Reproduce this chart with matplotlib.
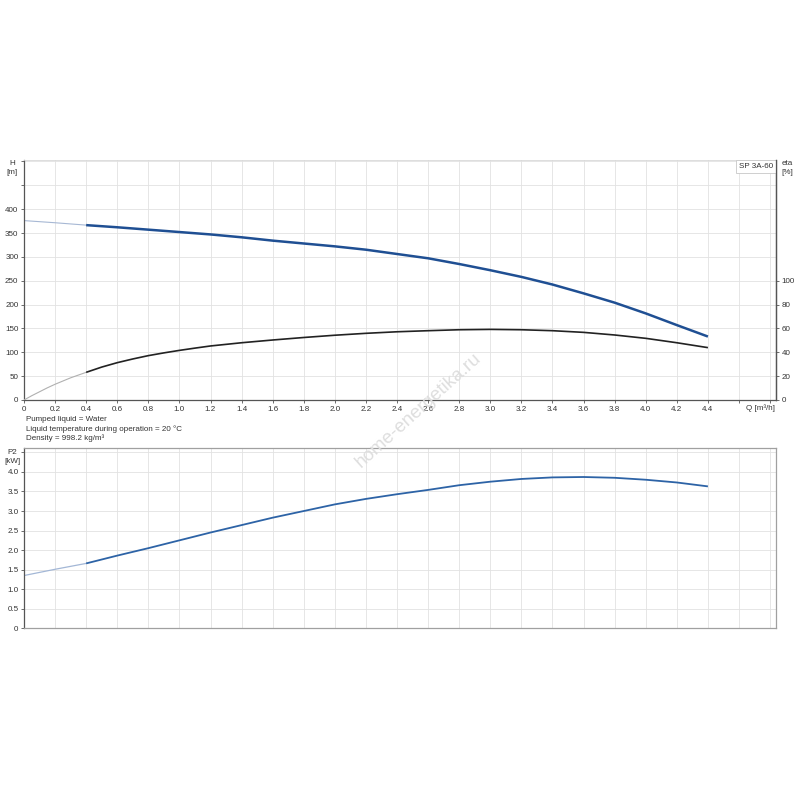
import matplotlib
matplotlib.use("Agg")
import matplotlib.pyplot as plt

plt.rcParams['font.family'] = ['Liberation Sans', 'DejaVu Sans']

# flow rate (m3/h) for the main part of the curves
q = [0.4, 0.6, 0.8, 1.0, 1.2, 1.4, 1.6, 1.8, 2.0, 2.2, 2.4,
     2.6, 2.8, 3.0, 3.2, 3.4, 3.6, 3.8, 4.0, 4.2, 4.4]
head = [366.5, 362, 357, 352, 347, 341, 334, 328, 322, 315, 306,
        297, 285, 272, 258, 242, 223.5, 204, 181.5, 157, 133]
p2 = [1.66, 1.86, 2.05, 2.25, 2.45, 2.64, 2.83, 3.0, 3.17, 3.31, 3.43,
      3.54, 3.66, 3.75, 3.82, 3.86, 3.87, 3.85, 3.80, 3.73, 3.63]

# efficiency is read more densely where it bends
q_eta = [0.4, 0.5, 0.6, 0.7, 0.8, 0.9, 1.0, 1.1, 1.2, 1.4, 1.6, 1.8, 2.0, 2.2, 2.4,
         2.6, 2.8, 3.0, 3.2, 3.4, 3.6, 3.8, 4.0, 4.2, 4.4]
eta = [23.2, 27.6, 31.3, 34.4, 37.2, 39.5, 41.6, 43.5, 45.3, 48.0, 50.3, 52.4, 54.3, 55.9, 57.2,
       58.1, 58.9, 59.2, 58.9, 58.1, 56.7, 54.5, 51.7, 48.0, 43.9]

# light start segment (0 .. 0.4 m3/h)
q_start = [0, 0.2, 0.4]
head_start = [376, 371.5, 366.5]
p2_start = [1.35, 1.51, 1.66]
q_eta_start = [0, 0.05, 0.1, 0.15, 0.2, 0.3, 0.4]
eta_start = [0, 3.6, 6.9, 10.2, 13.2, 18.6, 23.2]

q_ticks = [round(0.2 * i, 1) for i in range(25)]
q_labels = ['0'] + ['%.1f' % v for v in q_ticks[1:23]] + ['', '']

grid_c = '#e2e2e2'
spine_c = '#555555'
txt_c = '#333333'
fs = 5.8

fig = plt.figure(figsize=(8, 8), dpi=100)

# ---- top chart: head + efficiency
ax = fig.add_axes([0.03, 0.5, 0.94, 0.3])
ax.set_xlim(0, 4.838)
ax.set_ylim(0, 503)
ax.set_xticks(q_ticks)
ax.set_xticklabels(q_labels)
ax.set_yticks(range(0, 501, 50))
ax.set_yticklabels([str(v) if v <= 400 else '' for v in range(0, 501, 50)])
ax.grid(True, color=grid_c, lw=0.6)
ax.set_axisbelow(True)
ax.tick_params(labelsize=fs, colors=spine_c, labelcolor=txt_c, length=2.5, width=0.6, pad=1.5)
for s in ['left', 'bottom', 'right']:
    ax.spines[s].set_color(spine_c)
    ax.spines[s].set_linewidth(0.9)
ax.spines['top'].set_color('#d8d8d8')
ax.spines['top'].set_linewidth(0.6)

ax.plot(q_start, head_start, color='#a7b8d4', lw=0.8)
ax.plot(q, head, color='#1f4f93', lw=1.8, solid_capstyle='butt')

ax2 = ax.twinx()
ax2.set_ylim(0, 503 * 0.4)
ax2.set_yticks(range(0, 101, 20))
ax2.tick_params(labelsize=fs, colors=spine_c, labelcolor=txt_c, length=2.5, width=0.6, pad=1.5)
for s in ['left', 'bottom', 'top']:
    ax2.spines[s].set_visible(False)
ax2.spines['right'].set_color(spine_c)
ax2.spines['right'].set_linewidth(0.9)
ax2.plot(q_eta_start, eta_start, color='#b0b0b0', lw=0.8)
ax2.plot(q_eta, eta, color='#222222', lw=1.2, solid_capstyle='butt')

ax.text(4.71, 490, 'SP 3A-60', fontsize=fs, color=txt_c, ha='center', va='center',
        bbox=dict(boxstyle='square,pad=0.35', fc='white', ec='#c8c8c8', lw=0.6))

fig.text(12 / 800, 1 - 168 / 800, 'H\n[m]', fontsize=fs, color=txt_c, ha='center', va='center',
         linespacing=1.3)
fig.text(787 / 800, 1 - 168 / 800, 'eta\n[%]', fontsize=fs, color=txt_c, ha='center', va='center',
         linespacing=1.3)
fig.text(760 / 800, 1 - 408 / 800, 'Q [m³/h]', fontsize=fs, color=txt_c, ha='center', va='center')

info = ['Pumped liquid = Water',
        'Liquid temperature during operation = 20 °C',
        'Density = 998.2 kg/m³']
for i, line in enumerate(info):
    fig.text(26 / 800, 1 - (419 + 9.8 * i) / 800, line, fontsize=fs, color=txt_c, va='center')

# ---- bottom chart: power
bx = fig.add_axes([0.03, 0.2146, 0.94, 0.2258])
bx.set_xlim(0, 4.838)
bx.set_ylim(0, 4.62)
bx.set_xticks(q_ticks)
bx.set_xticklabels([])
bx.tick_params(axis='x', length=0)
p_ticks = [0.5 * i for i in range(10)]
bx.set_yticks(p_ticks)
bx.set_yticklabels(['0'] + ['%.1f' % v for v in p_ticks[1:9]] + [''])
bx.grid(True, color=grid_c, lw=0.6)
bx.set_axisbelow(True)
bx.tick_params(axis='y', labelsize=fs, colors=spine_c, labelcolor=txt_c, length=2.5, width=0.6, pad=1.5)
for s in ['top', 'right', 'bottom']:
    bx.spines[s].set_color('#a0a0a0')
    bx.spines[s].set_linewidth(0.9)
bx.spines['left'].set_color(spine_c)
bx.spines['left'].set_linewidth(0.9)

bx.plot(q_start, p2_start, color='#a3b7d6', lw=0.9)
bx.plot(q, p2, color='#2d63a6', lw=1.3, solid_capstyle='butt')

fig.text(12 / 800, 1 - 457 / 800, 'P2\n[kW]', fontsize=fs, color=txt_c, ha='center', va='center',
         linespacing=1.3)

# watermark
fig.text(418 / 800, 1 - 410 / 800, 'home-energetika.ru', fontsize=13.5, color='#dedede',
         rotation=42, ha='center', va='center', zorder=10)

fig.savefig('out.png', dpi=100)
